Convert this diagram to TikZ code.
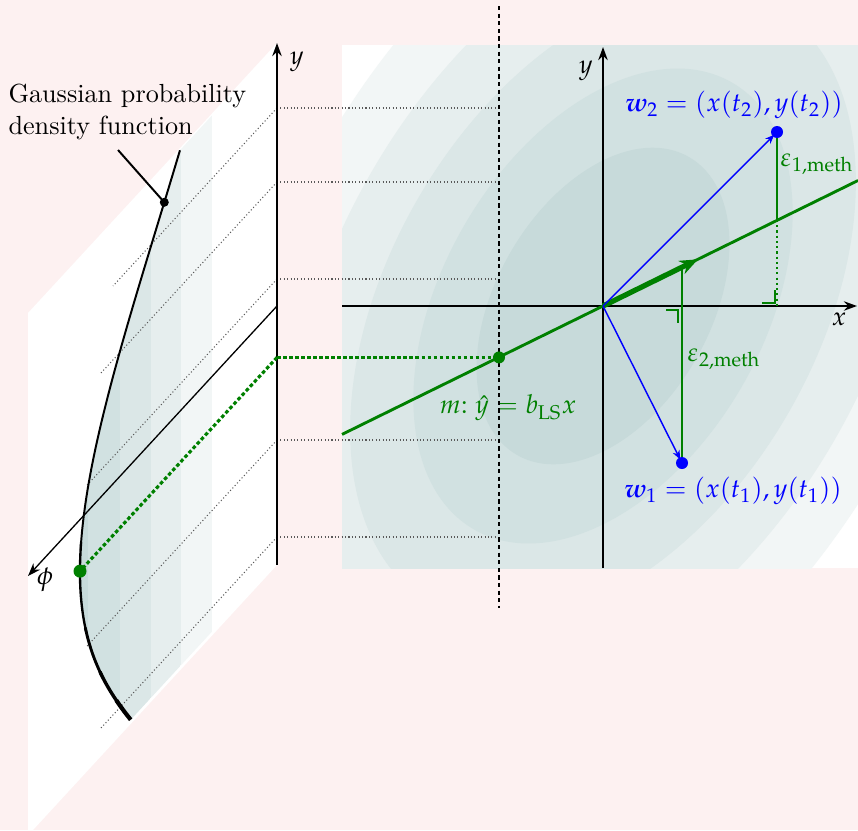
\documentclass[tikz,border=0pt]{standalone}
\usepackage{mathpazo}
\usepackage{amsmath,bm}
\usetikzlibrary{arrows.meta,calc}
\definecolor{bgpink}{RGB}{253,241,241}
\definecolor{lvA}{RGB}{242,246,246}
\definecolor{lvB}{RGB}{230,238,238}
\definecolor{lvC}{RGB}{219,231,231}
\definecolor{lvD}{RGB}{209,225,225}
\definecolor{lvE}{RGB}{199,218,218}
\definecolor{mgreen}{RGB}{0,128,0}
\tikzset{
  axisarrow/.style={line width=0.75pt,-{Stealth[length=5pt,width=3.6pt]}},
  thinaxis/.style={line width=0.5pt,-{Stealth[length=5pt,width=3.6pt]}},
  guide/.style={black!65,line width=0.4pt,dash pattern=on 0.4pt off 0.9pt},
  greendots/.style={mgreen,line width=1.2pt,dash pattern=on 1.4pt off 0.9pt},
  blackdots/.style={black,line width=1pt,dash pattern=on 1.6pt off 1.3pt},
  bluearrow/.style={blue,line width=0.55pt,-{Stealth[length=3.5pt,width=2.8pt]},shorten >=1.5pt},
  mline/.style={mgreen,line width=1.1pt},
  resid/.style={mgreen,line width=0.8pt},
  lbl/.style={inner sep=0pt},
}
\def\gd#1{197*exp(-0.5*((#1-358)/263)*((#1-358)/263))}
\begin{document}
\begin{tikzpicture}[x=0.382pt,y=-0.382pt]
\useasboundingbox (0,0) rectangle (858,830);
\fill[bgpink] (0,0) rectangle (858,830);
% left plane
\fill[white] (28,313) -- (277,43) -- (277,565) -- (33,830) -- (28,830) -- cycle;
% key coordinates
\coordinate (O) at (603,306);
\coordinate (xs) at (342,306);
\coordinate (xe) at (857,306);
\coordinate (ys) at (603,568);
\coordinate (ye) at (603,47);
\coordinate (Ly0) at (277,565);
\coordinate (Ly1) at (277,43);
\coordinate (Lo) at (277,306);
\coordinate (phiend) at (28,576);
\coordinate (w1) at (682,463);
\coordinate (w2) at (777,132);
\coordinate (m1) at (342,434.4);
\coordinate (m2) at (858,180.5);
\coordinate (f1) at (777,220);
\coordinate (f1b) at (777,306);
\coordinate (f2) at (682,267.1);
\coordinate (arrtip) at (698,259.3);
\coordinate (G) at (499,357.4);
\coordinate (GL) at (277,357.4);
\coordinate (Gc) at ({277-197},{357.4+1.085*197});
\coordinate (vtop) at (499,6);
\coordinate (vbot) at (499,608);
\coordinate (P) at ({277-\gd{80}},{80+1.085*\gd{80}});
\coordinate (ptr) at (118,150);
% right panel with contours
\begin{scope}
  \clip (342,45) rectangle (858,568);
  \fill[white] (342,45) rectangle (858,568);
  \foreach \s/\c in {3/lvA,2.5/lvB,2/lvC,1.5/lvD,1/lvE}
    \fill[\c, rotate around={60:(O)}] (O) ellipse [x radius={172*\s}, y radius={107*\s}];
\end{scope}
% shading under the density
\begin{scope}
  \clip (277,45) -- plot[domain=45:561,samples=80,variable=\t] ({277-\gd{\t}},{\t+1.085*\gd{\t}}) -- (277,561) -- cycle;
  \fill[lvE] (0,0) rectangle (88,830);
  \fill[lvD] (88,0) rectangle (120,830);
  \fill[lvC] (120,0) rectangle (151,830);
  \fill[lvB] (151,0) rectangle (181,830);
  \fill[lvA] (181,0) rectangle (212,830);
\end{scope}
% guide lines
\foreach \Y/\ex in {108/113,182/100,279/87,440/87,537/100}{
  \coordinate (ga) at (277,\Y);
  \coordinate (gb) at (\ex,{\Y+1.085*(277-\ex)});
  \coordinate (gc) at (497,\Y);
  \draw[guide] (ga) -- (gb);
  \draw[guide] (ga) -- (gc);
}
% density curve
\draw[line width=0.75pt] plot[domain=45:335,samples=40,variable=\t] ({277-\gd{\t}},{\t+1.085*\gd{\t}});
\draw[line width=0.9pt,line cap=round] plot[domain=330:425,samples=20,variable=\t] ({277-\gd{\t}},{\t+1.085*\gd{\t}});
\draw[line width=1.1pt,line cap=round] plot[domain=420:485,samples=15,variable=\t] ({277-\gd{\t}},{\t+1.085*\gd{\t}});
\draw[line width=1.3pt,line cap=round] plot[domain=480:530,samples=12,variable=\t] ({277-\gd{\t}},{\t+1.085*\gd{\t}});
\draw[line width=1.6pt] plot[domain=526:561,samples=10,variable=\t] ({277-\gd{\t}},{\t+1.085*\gd{\t}});
% pointer
\node[lbl,anchor=north west,align=left] (glabel) at (8,84) {Gaussian probability\\density function};
\draw[line width=0.75pt] (ptr) -- (P);
\fill (P) circle[radius=4.5];
% left axes
\draw[axisarrow] (Ly0) -- (Ly1);
\node[lbl] (ylab1) at (297,62) {$y$};
\draw[thinaxis] (Lo) -- (phiend);
\node[lbl] (philab) at (45,580) {$\phi$};
% right axes
\draw[axisarrow] (xs) -- (xe);
\draw[axisarrow] (ys) -- (ye);
\node[lbl] (xlab) at (839,319) {$x$};
\node[lbl] (ylab2) at (586,71) {$y$};
% regression line
\draw[mline] (m1) -- (m2);
\draw[mgreen,line width=2pt,-{Stealth[length=7pt,width=5.5pt]}] (O) -- (arrtip);
% residuals
\draw[resid] (w2) -- (f1);
\draw[mgreen,line width=0.8pt,dash pattern=on 0.8pt off 1.2pt] (f1) -- (f1b);
\draw[resid] ($(f1b)+(-15,-3)$) -- ($(f1b)+(-2,-3)$) -- ($(f1b)+(-2,-16)$);
\draw[resid] (w1) -- (f2);
\draw[resid] ($(O)+(63,4)$) -- ($(O)+(75,4)$) -- ($(O)+(75,17)$);
% blue vectors
\draw[bluearrow] (O) -- (w2);
\draw[bluearrow] (O) -- (w1);
\fill[blue] (w2) circle[radius=6];
\fill[blue] (w1) circle[radius=6];
% labels
\node[lbl,text=blue] (w2lab) at (734,105) {$\bm{w}_2 = (x(t_2),y(t_2))$};
\node[lbl,text=blue] (w1lab) at (733,491) {$\bm{w}_1 = (x(t_1),y(t_1))$};
\node[lbl,text=mgreen,anchor=west] (e1lab) at (780,164) {$\varepsilon_{1,\mathrm{meth}}$};
\node[lbl,text=mgreen,anchor=west] (e2lab) at (687,359) {$\varepsilon_{2,\mathrm{meth}}$};
\node[lbl,text=mgreen] (mlab) at (508,408) {$m{:}\;\hat{y} = b_{\mathrm{LS}}x$};
% projections
\draw[blackdots] (vtop) -- (vbot);
\draw[greendots] (GL) -- (G);
\draw[greendots] (GL) -- (Gc);
\fill[mgreen] (G) circle[radius=6];
\fill[mgreen] (Gc) circle[radius=6.5];
\end{tikzpicture}
\end{document}
